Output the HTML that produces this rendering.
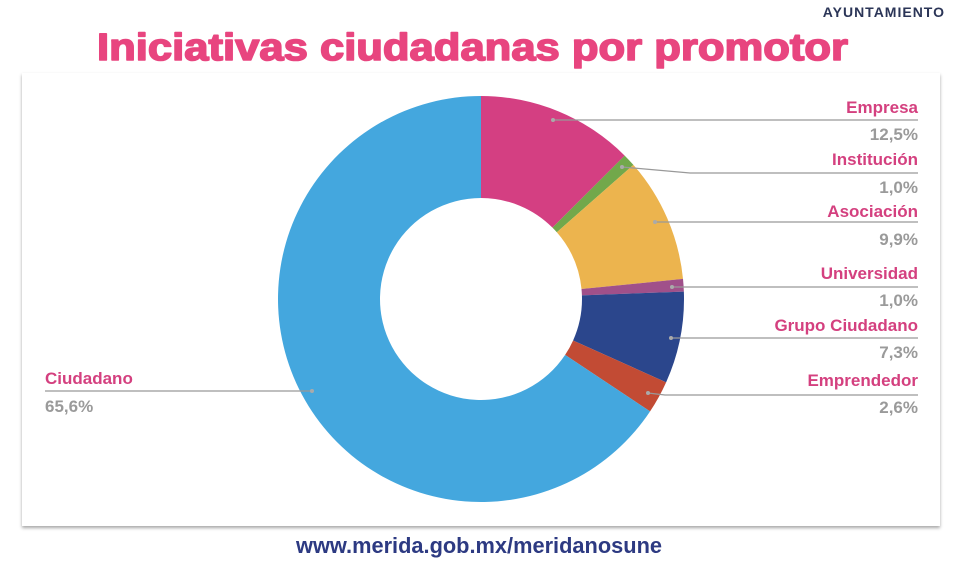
<!DOCTYPE html>
<html><head><meta charset="utf-8"><style>
body{margin:0;background:#fff;width:963px;height:575px;overflow:hidden;font-family:"Liberation Sans",sans-serif}
</style></head><body>
<svg width="963" height="575" xmlns="http://www.w3.org/2000/svg" font-family="Liberation Sans, sans-serif">
<defs><filter id="sh" x="-5%" y="-5%" width="110%" height="110%"><feDropShadow dx="0" dy="2" stdDeviation="1.5" flood-color="#000" flood-opacity="0.35"/></filter></defs>
<text x="945" y="17" text-anchor="end" font-size="14" font-weight="bold" fill="#2b3557" letter-spacing="1">AYUNTAMIENTO</text>
<text x="97" y="60" font-size="38" font-weight="bold" fill="#e8457f" stroke="#e8457f" stroke-width="1.6" stroke-linejoin="round" textLength="751" lengthAdjust="spacingAndGlyphs">Iniciativas ciudadanas por promotor</text>
<rect x="22" y="73" width="918" height="453" fill="#fff" filter="url(#sh)"/>
<g id="pie"></g>
<g stroke="#999" stroke-width="1.3" fill="none">
<polyline points="553,120 918,120"/>
<polyline points="622,167 690,173 918,173"/>
<polyline points="655,222 918,222"/>
<polyline points="672,287 918,287"/>
<polyline points="671,338 918,338"/>
<polyline points="648,393 665,395 918,395"/>
<polyline points="45,391 312,391"/>
</g>
<g fill="#aaa"><circle cx="553" cy="120" r="2"/><circle cx="622" cy="167" r="2"/><circle cx="655" cy="222" r="2"/><circle cx="672" cy="287" r="2"/><circle cx="671" cy="338" r="2"/><circle cx="648" cy="393" r="2"/><circle cx="312" cy="391" r="2"/></g>
<g font-size="17" font-weight="bold" text-anchor="end">
<text x="918" y="113" fill="#d4407f">Empresa</text><text x="918" y="140" fill="#9a9a9a">12,5%</text>
<text x="918" y="165" fill="#d4407f">Institución</text><text x="918" y="193" fill="#9a9a9a">1,0%</text>
<text x="918" y="217" fill="#d4407f">Asociación</text><text x="918" y="245" fill="#9a9a9a">9,9%</text>
<text x="918" y="279" fill="#d4407f">Universidad</text><text x="918" y="306" fill="#9a9a9a">1,0%</text>
<text x="918" y="331" fill="#d4407f">Grupo Ciudadano</text><text x="918" y="358" fill="#9a9a9a">7,3%</text>
<text x="918" y="386" fill="#d4407f">Emprendedor</text><text x="918" y="413" fill="#9a9a9a">2,6%</text>
</g>
<g font-size="17" font-weight="bold">
<text x="45" y="384" fill="#d4407f">Ciudadano</text><text x="45" y="412" fill="#9a9a9a">65,6%</text>
</g>
<text x="479" y="553" text-anchor="middle" font-size="22" font-weight="bold" fill="#2d3a82" textLength="366" lengthAdjust="spacingAndGlyphs">www.merida.gob.mx/meridanosune</text>
</svg>
<script>
var cx=481,cy=299,R=203,r=101;
var vals=[12.5,1.0,9.9,1.0,7.3,2.6,65.6],cols=["#d43f82","#72a84b","#ecb44e","#a0508a","#2b468c","#c24b34","#44a7de"];
var tot=vals.reduce(function(a,b){return a+b},0),a=0,g=document.getElementById("pie"),s="";
function p(rad,t){return (cx+rad*Math.sin(t)).toFixed(2)+","+(cy-rad*Math.cos(t)).toFixed(2)}
for(var i=0;i<vals.length;i++){var b=a+vals[i]/tot*2*Math.PI,l=(b-a)>Math.PI?1:0;
s+='<path fill="'+cols[i]+'" d="M'+p(R,a)+' A'+R+','+R+' 0 '+l+' 1 '+p(R,b)+' L'+p(r,b)+' A'+r+','+r+' 0 '+l+' 0 '+p(r,a)+' Z"/>';a=b;}
g.innerHTML=s;
</script>
</body></html>
